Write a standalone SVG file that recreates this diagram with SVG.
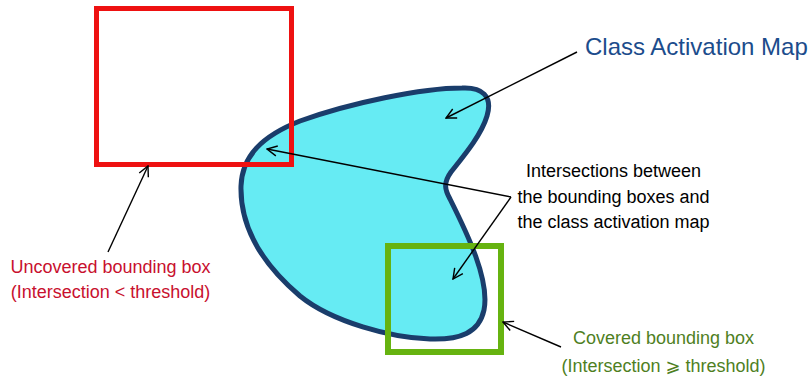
<svg xmlns="http://www.w3.org/2000/svg" width="812" height="378" viewBox="0 0 812 378">
<defs>
<marker id="arr" viewBox="0 0 12 12" refX="11" refY="6" markerWidth="12" markerHeight="12" markerUnits="userSpaceOnUse" orient="auto">
<path d="M1,1 L11,6 L1,11" fill="none" stroke="#000" stroke-width="1.4"/>
</marker>
<style>
.lbl{font-family:"Liberation Sans","DejaVu Sans",Arial,sans-serif;font-size:18px;text-anchor:middle}
.con{fill:none;stroke:#000;stroke-width:1.4;marker-end:url(#arr)}
</style>
</defs>
<rect width="812" height="378" fill="#fff"/>
<g id="cam">
<path d="M 462,88 C 482,87 493,96 487,116 C 481,136 462,158 451,172 C 443,183 445,190 450,199 C 467,233 490,280 484,310 C 479,333 460,340 430,339 C 392,338 332,322 300,296 C 260,262 240,225 241,186 C 242,156 262,136 300,121 C 350,103 422,88 462,88 Z" fill="#66ebf3" stroke="#1a3d6b" stroke-width="5"/>
</g>
<g id="uncovered-box">
<rect x="96.5" y="8.5" width="195" height="156" fill="none" stroke="#ee1111" stroke-width="5"/>
</g>
<g id="covered-box">
<rect x="388" y="246" width="113" height="106" fill="none" stroke="#66b310" stroke-width="6"/>
</g>
<g id="connectors">
<line class="con" x1="577" y1="52" x2="446" y2="118"/>
<polyline class="con" points="511,197 267,149"/>
<line class="con" x1="511" y1="197" x2="453" y2="279"/>
<line class="con" x1="108" y1="252" x2="148" y2="166"/>
<line class="con" x1="561" y1="347" x2="503" y2="322"/>
</g>
<g id="label-cam">
<text x="585" y="55" style="font-family:'Liberation Sans','DejaVu Sans',Arial,sans-serif;font-size:24px" fill="#1c4c8c">Class Activation Map</text>
</g>
<g id="label-intersections">
<text class="lbl" x="613.5" y="177" fill="#000">Intersections between</text>
<text class="lbl" x="613.5" y="203" fill="#000">the bounding boxes and</text>
<text class="lbl" x="613.5" y="228" fill="#000">the class activation map</text>
</g>
<g id="label-uncovered">
<text class="lbl" x="110.5" y="273" fill="#c8102e">Uncovered bounding box</text>
<text class="lbl" x="110.5" y="298" fill="#c8102e">(Intersection &lt; threshold)</text>
</g>
<g id="label-covered">
<text class="lbl" x="663.5" y="344" fill="#4f7f1f">Covered bounding box</text>
<text class="lbl" x="663.5" y="372" fill="#4f7f1f">(Intersection ⩾ threshold)</text>
</g>
</svg>
